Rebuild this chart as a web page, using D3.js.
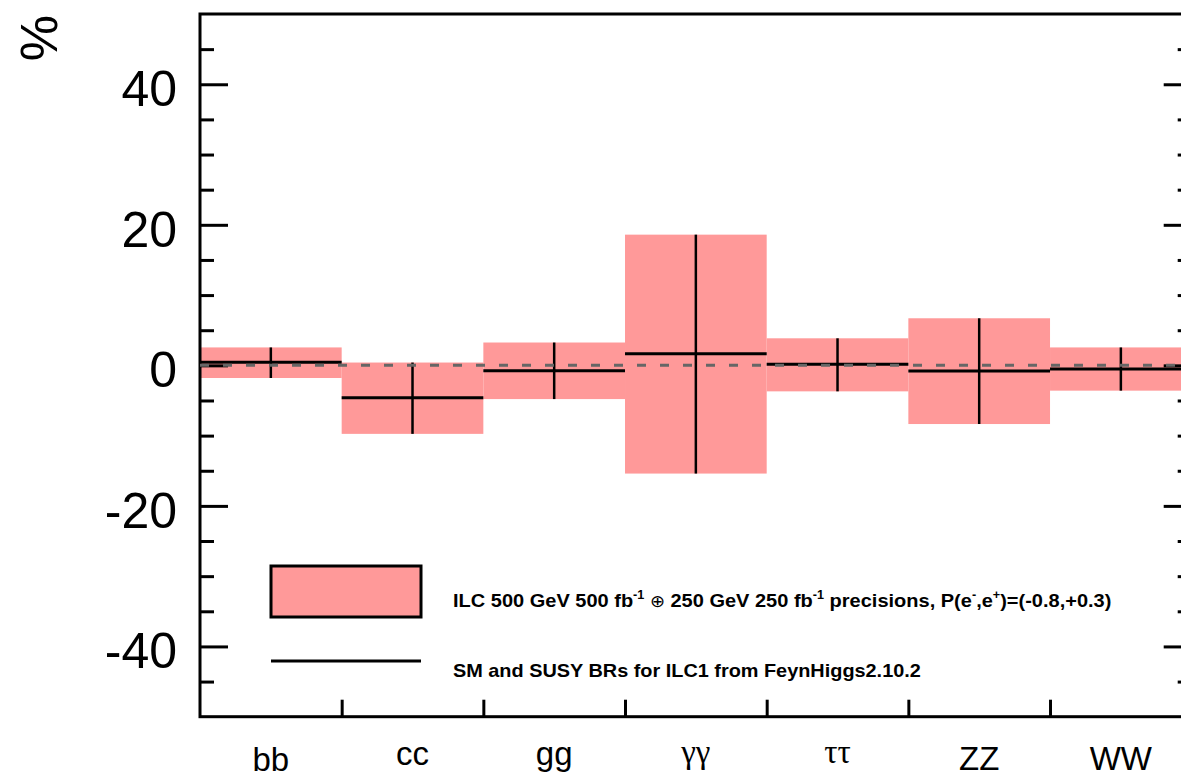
<!DOCTYPE html>
<html>
<head>
<meta charset="utf-8">
<script src="https://cdn.jsdelivr.net/npm/d3@7"></script>
<style>
  html, body { margin: 0; padding: 0; background: #fff; overflow: hidden; }
  svg { display: block; }
</style>
</head>
<body>
<svg id="chart" width="1181" height="779"></svg>
<script>
// Higgs decay channels and the deviation of each branching ratio (%)
const channels = ["bb", "cc", "gg", "γγ", "ττ", "ZZ", "WW"];
// model prediction (SM and SUSY BRs, FeynHiggs)
const centralValues = [0.45, -4.6, -0.76, 1.65, 0.14, -0.8, -0.52];
// lower / upper edge of the precision band
const lowerValues = [-1.8, -9.75, -4.8, -15.4, -3.7, -8.35, -3.6];
const upperValues = [2.55, 0.4, 3.25, 18.6, 3.85, 6.7, 2.55];
// y axis
const yDomain = [-50, 50];
const yTickLabels = [-40, -20, 0, 20, 40];
const yMinorTicks = [-45, -35, -30, -25, -15, -10, -5, 5, 10, 15, 25, 30, 35, 45];
const yTitle = "%";
// legend entries
const legendBandParts = [
  { t: "ILC 500 GeV 500 fb" }, { t: "-1", sup: true },
  { t: " " }, { t: "⊕", sym: true },
  { t: " 250 GeV 250 fb" }, { t: "-1", sup: true },
  { t: " precisions, P(e" }, { t: "-", sup: true },
  { t: ",e" }, { t: "+", sup: true },
  { t: ")=(-0.8,+0.3)" }
];
const legendLineText = "SM and SUSY BRs for ILC1 from FeynHiggs2.10.2";

const band = "#ff9999";
const sans = "'Liberation Sans', Arial, Helvetica, sans-serif";
const serif = "'Liberation Serif', 'Times New Roman', serif";

const svg = d3.select("#chart");
const plotL = 200, plotR = 1191.7, plotT = 14, plotB = 716.7;

const x = d3.scaleBand().domain(channels).range([plotL, plotR]).padding(0);
const xEdge = d3.scaleLinear().domain([0, channels.length]).range([plotL, plotR]);
const y = d3.scaleLinear().domain(yDomain).range([plotB, plotT]);

const rows = channels.map((c, i) => ({
  c, mid: centralValues[i], lo: lowerValues[i], hi: upperValues[i]
}));

// precision bands
svg.append("g").selectAll("rect").data(rows).join("rect")
  .attr("x", d => x(d.c))
  .attr("width", x.bandwidth())
  .attr("y", d => y(d.hi))
  .attr("height", d => y(d.lo) - y(d.hi))
  .attr("fill", band);

// model values: horizontal bar across the bin plus vertical error line
const marks = svg.append("g").attr("stroke", "#000");
marks.selectAll("line.h").data(rows).join("line")
  .attr("class", "h")
  .attr("x1", d => x(d.c)).attr("x2", d => x(d.c) + x.bandwidth())
  .attr("y1", d => y(d.mid)).attr("y2", d => y(d.mid))
  .attr("stroke-width", 3);
marks.selectAll("line.v").data(rows).join("line")
  .attr("class", "v")
  .attr("x1", d => x(d.c) + x.bandwidth() / 2).attr("x2", d => x(d.c) + x.bandwidth() / 2)
  .attr("y1", d => y(d.hi)).attr("y2", d => y(d.lo))
  .attr("stroke-width", 2.5);

// inward ticks on both vertical sides
function tickAxis(axis, tx) {
  const g = svg.append("g").attr("transform", `translate(${tx},0)`).call(axis);
  g.select(".domain").remove();
  g.selectAll(".tick line").attr("stroke", "#000").attr("stroke-width", 3);
  g.selectAll(".tick text").remove();
  return g;
}
tickAxis(d3.axisRight(y).tickValues(yTickLabels).tickSize(28), plotL);
tickAxis(d3.axisRight(y).tickValues(yMinorTicks).tickSize(14), plotL);
tickAxis(d3.axisLeft(y).tickValues(yTickLabels).tickSize(28), plotR);
tickAxis(d3.axisLeft(y).tickValues(yMinorTicks).tickSize(14), plotR);

// bin separators on the bottom axis
const xt = svg.append("g").attr("transform", `translate(0,${plotB})`)
  .call(d3.axisTop(xEdge).tickValues(d3.range(1, channels.length)).tickSize(17).tickFormat(""));
xt.select(".domain").remove();
xt.selectAll(".tick line").attr("stroke", "#000").attr("stroke-width", 3);

// y tick labels (plain hyphen for negatives)
const yl = svg.append("g").attr("transform", `translate(${plotL},0)`)
  .call(d3.axisLeft(y).tickValues(yTickLabels).tickSize(0).tickPadding(23)
    .tickFormat(d => String(d)));
yl.select(".domain").remove();
yl.selectAll(".tick text")
  .attr("font-family", sans).attr("font-size", 50).attr("fill", "#000")
  .attr("dy", "0.43em");

// frame
svg.append("rect")
  .attr("x", plotL).attr("y", plotT)
  .attr("width", plotR - plotL).attr("height", plotB - plotT)
  .attr("fill", "none").attr("stroke", "#000").attr("stroke-width", 3);

// zero reference
svg.append("line")
  .attr("x1", plotL).attr("x2", plotR)
  .attr("y1", y(0)).attr("y2", y(0))
  .attr("stroke", "#666").attr("stroke-width", 3)
  .attr("stroke-dasharray", "9,14");

// y title, rotated
svg.append("text")
  .attr("transform", "translate(39,38) rotate(-90)")
  .attr("text-anchor", "middle").attr("dominant-baseline", "central")
  .attr("font-family", sans).attr("font-size", 52).text(yTitle);

// channel labels, top-aligned below the axis
const ctx = document.createElement("canvas").getContext("2d");
const isGreek = s => /[\u0370-\u03ff]/.test(s);
const labelTop = 747;
svg.append("g").selectAll("text").data(channels).join("text")
  .attr("text-anchor", "middle")
  .attr("x", d => x(d) + x.bandwidth() / 2)
  .attr("font-family", d => isGreek(d) ? serif : sans)
  .attr("font-size", 33)
  .attr("y", d => {
    ctx.font = `33px ${isGreek(d) ? serif : sans}`;
    return labelTop + ctx.measureText(d).actualBoundingBoxAscent;
  })
  .text(d => d);

// legend
svg.append("rect")
  .attr("x", 271).attr("y", 566).attr("width", 150).attr("height", 51)
  .attr("fill", band).attr("stroke", "#000").attr("stroke-width", 3);
svg.append("line")
  .attr("x1", 271).attr("x2", 421).attr("y1", 661).attr("y2", 661)
  .attr("stroke", "#000").attr("stroke-width", 3);

function fitWidth(sel, x0, width) {
  const w = sel.node().getBBox().width;
  sel.attr("transform", `translate(${x0},0) scale(${width / w},1) translate(${-x0},0)`);
}

const t1 = svg.append("text")
  .attr("x", 453).attr("y", 607)
  .attr("font-family", sans).attr("font-weight", "bold").attr("font-size", 19);
let shift = 0;
legendBandParts.forEach(p => {
  const ts = t1.append("tspan").text(p.t);
  if (p.sup) {
    ts.attr("font-size", 12).attr("dy", -8 - shift);
    shift = -8;
  } else {
    ts.attr("dy", -shift);
    shift = 0;
  }
  if (p.sym) ts.attr("font-weight", "normal").attr("font-family", "'DejaVu Sans', sans-serif").attr("font-size", 17);
});
fitWidth(t1, 453, 659);

const t2 = svg.append("text")
  .attr("x", 453).attr("y", 677)
  .attr("font-family", sans).attr("font-weight", "bold").attr("font-size", 19)
  .text(legendLineText);
fitWidth(t2, 453, 468);
</script>
</body>
</html>
